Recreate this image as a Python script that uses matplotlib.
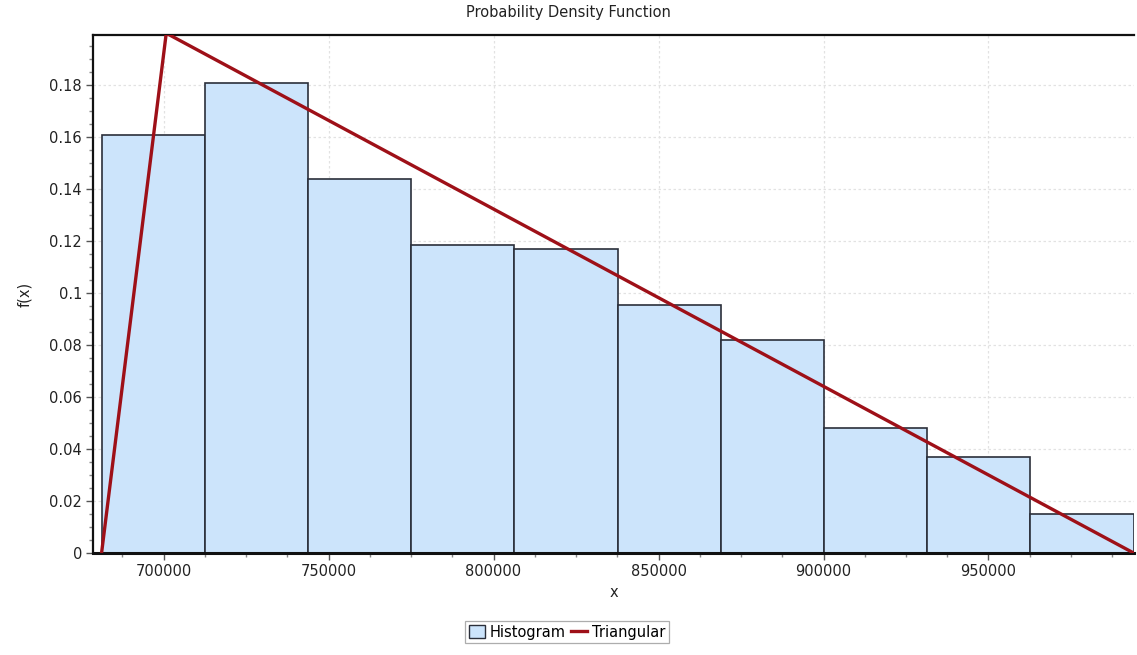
import matplotlib
matplotlib.use("Agg")
import matplotlib.pyplot as plt
from matplotlib.ticker import MultipleLocator, FuncFormatter
from matplotlib.patches import Patch
from matplotlib.lines import Line2D

# Histogram of the sample (10 equal-width bins)
bin_edges = [681200, 712480, 743760, 775040, 806320, 837600,
             868880, 900160, 931440, 962720, 994000]
bin_heights = [0.161, 0.181, 0.144, 0.1185, 0.117, 0.0955,
               0.082, 0.048, 0.037, 0.015]

# Fitted triangular distribution (min, mode, max) scaled to bin width
tri_x = [681200, 700800, 994000]
tri_y = [0.0, 0.2, 0.0]

x_ticks = [700000, 750000, 800000, 850000, 900000, 950000]
y_ticks = [0, 0.02, 0.04, 0.06, 0.08, 0.1, 0.12, 0.14, 0.16, 0.18]

plt.rcParams['font.family'] = ['DejaVu Sans']

fig = plt.figure(figsize=(11.37, 6.55), dpi=100)
ax = fig.add_axes([93 / 1137, 102 / 655, (1134 - 93) / 1137, (553 - 35) / 655])

bar_fill = '#cce4fb'
bar_edge = '#2b2f3a'
line_col = '#9e1018'

widths = [bin_edges[i + 1] - bin_edges[i] for i in range(len(bin_heights))]
ax.bar(bin_edges[:-1], bin_heights, width=widths, align='edge',
       color=bar_fill, edgecolor=bar_edge, linewidth=1.2, zorder=2)
ax.plot(tri_x, tri_y, color=line_col, linewidth=2.4, zorder=3,
        solid_joinstyle='miter', clip_on=True)

ax.set_xlim(678600, 994100)
ax.set_ylim(0, 0.1993)

ax.set_xticks(x_ticks)
ax.set_yticks(y_ticks)
ax.xaxis.set_minor_locator(MultipleLocator(12500))
ax.yaxis.set_minor_locator(MultipleLocator(0.005))
ax.yaxis.set_major_formatter(FuncFormatter(lambda v, p: '0' if v == 0 else f'{v:g}'))
ax.xaxis.set_major_formatter(FuncFormatter(lambda v, p: f'{int(v)}'))

ax.tick_params(axis='both', which='major', length=5, width=1, color='#555555',
               labelsize=10.5, labelcolor='#222222', pad=3)
ax.tick_params(axis='both', which='minor', length=3, width=1, color='#888888')

ax.grid(True, which='major', color='#e2e2e2', linestyle=(0, (2, 2)), linewidth=0.9, zorder=0)
ax.set_axisbelow(True)

for side in ('left', 'bottom', 'top'):
    ax.spines[side].set_color('#111111')
ax.spines['left'].set_linewidth(1.6)
ax.spines['bottom'].set_linewidth(2.2)
ax.spines['top'].set_linewidth(1.6)
ax.spines['right'].set_visible(False)

fig.text(0.5, 1 - 12 / 655, 'Probability Density Function', fontsize=10.5,
         color='#222222', ha='center', va='center')
ax.set_xlabel('x', fontsize=10.5, color='#222222', labelpad=4)
ax.set_ylabel('f(x)', fontsize=10.5, color='#222222', labelpad=12)

handles = [Patch(facecolor=bar_fill, edgecolor=bar_edge, linewidth=1.0),
           Line2D([0], [0], color=line_col, linewidth=2.4)]
leg = fig.legend(handles, ['Histogram', 'Triangular'], loc='center',
                 bbox_to_anchor=(567 / 1137, 1 - 632 / 655), ncol=2,
                 fontsize=10.5, frameon=True, fancybox=False,
                 handlelength=1.1, handleheight=1.0, handletextpad=0.3,
                 columnspacing=0.4, borderpad=0.25, borderaxespad=0)
leg.get_frame().set_edgecolor('#999999')
leg.get_frame().set_linewidth(0.9)

fig.savefig('out.png', dpi=100, facecolor='white')
